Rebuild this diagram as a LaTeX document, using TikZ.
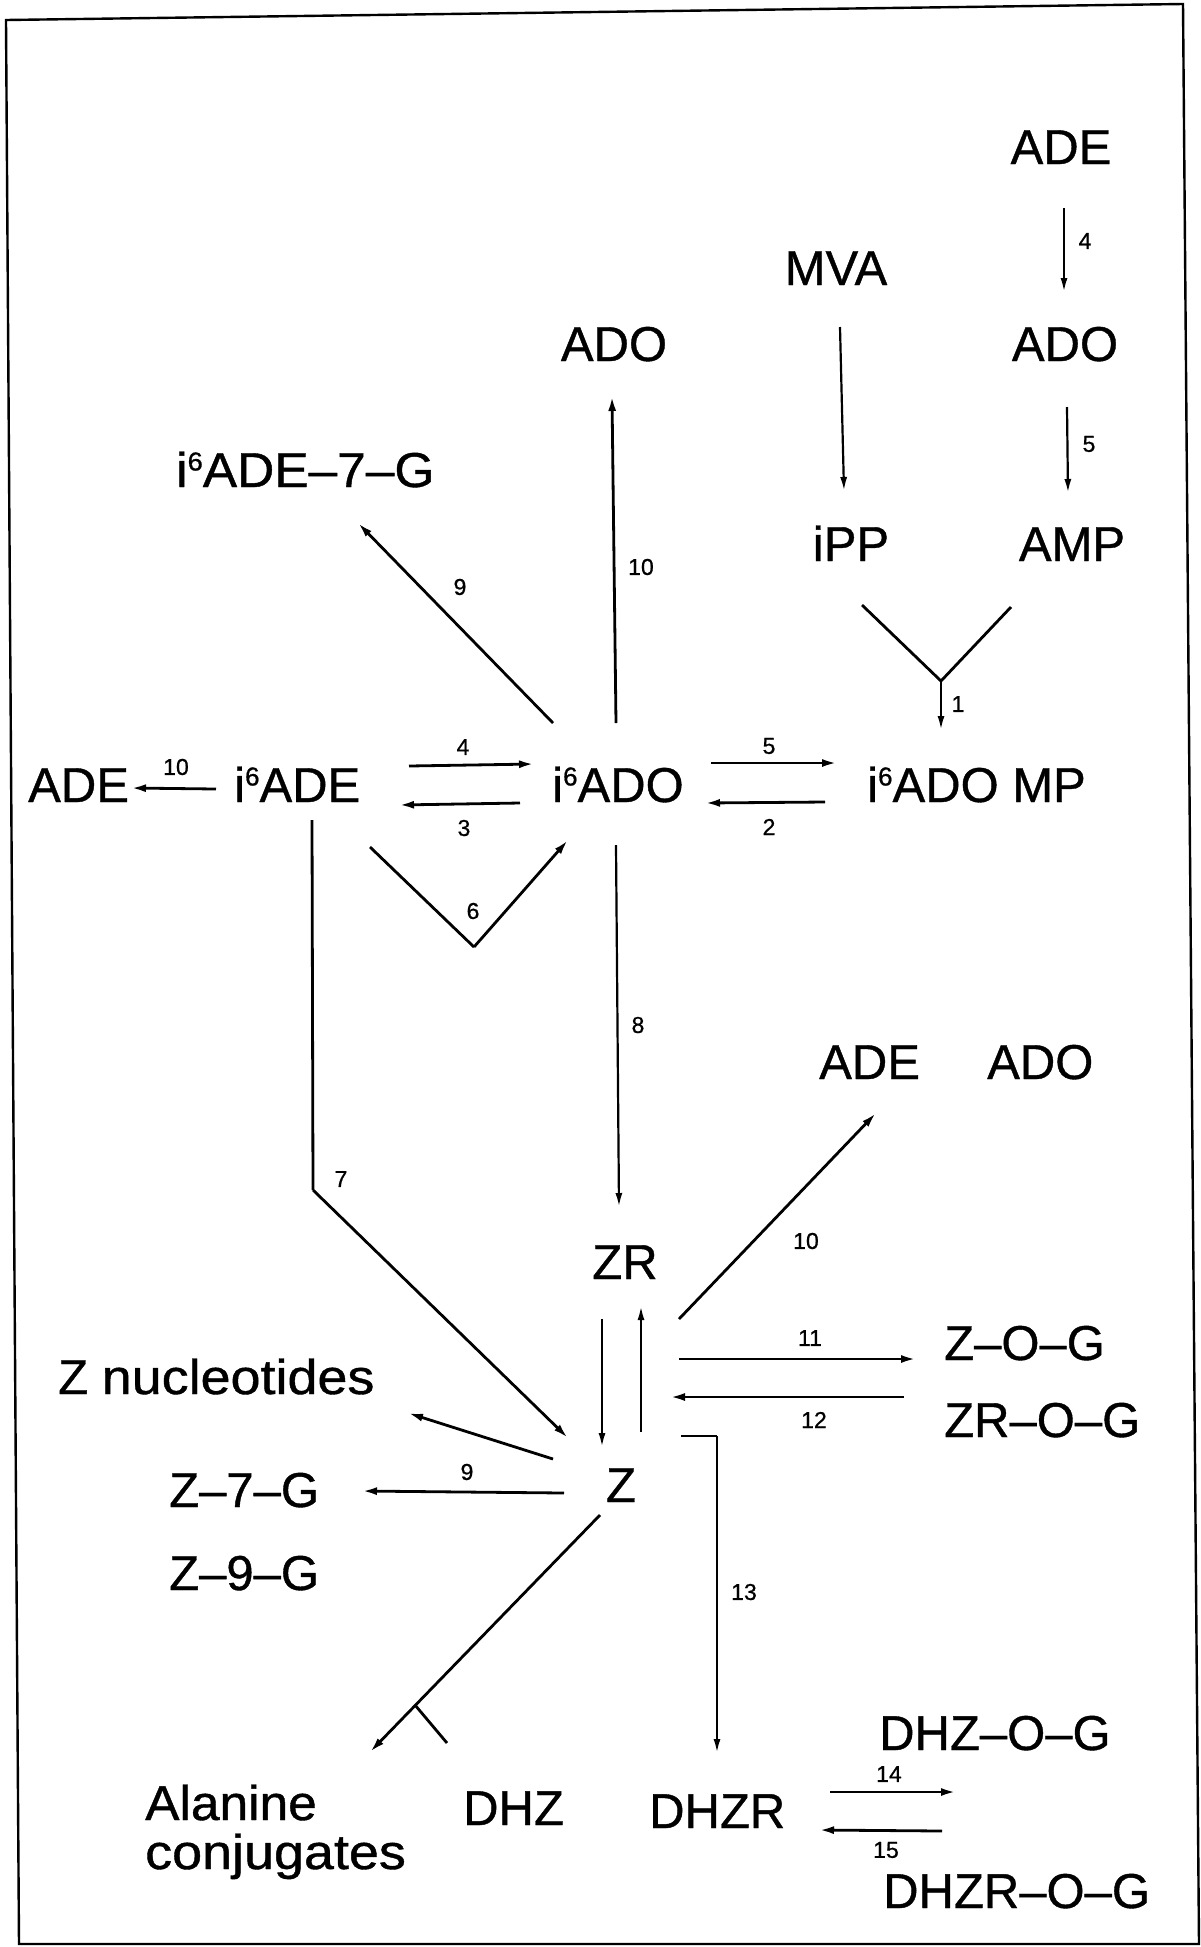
\documentclass[tikz,border=0pt]{standalone}
\usepackage{fontspec}
\setmainfont{Liberation Sans}[FakeBold=0.8]
\usetikzlibrary{arrows.meta}
\newcommand\isix{i\raisebox{16.5pt}{\fontsize{26}{26}\selectfont 6}}
\newcommand\dsh{\textendash}
\newcommand\wide[2]{\scalebox{#1}[1]{#2}}
\begin{document}
\begin{tikzpicture}[x=1pt,y=-1pt,
  chem/.style={inner sep=0pt, anchor=base west, font=\fontsize{49}{58}\selectfont},
  chemc/.style={inner sep=0pt, anchor=base, font=\fontsize{49}{58}\selectfont},
  num/.style={inner sep=0pt, font=\fontsize{23}{27}\selectfont},
  rx/.style={line width=2.8pt, -{Latex[length=15pt,width=8pt]}},
  rxthin/.style={line width=2.2pt, -{Latex[length=14pt,width=7pt]}},
  ln/.style={line width=2.8pt, line join=miter},
  lnthin/.style={line width=2.2pt, line join=miter},
  frame/.style={line width=2.4pt}
  ]
\useasboundingbox (0,0) rectangle (1201,1947);
% frame
\coordinate (f1) at (6,20);
\coordinate (f2) at (1183,4);
\coordinate (f3) at (1199,1944);
\coordinate (f4) at (19,1944);
\draw[frame] (f1) -- (f2) -- (f3) -- (f4) -- cycle;

% compounds
\node[chemc] (ADEt) at (1061,164) {ADE};
\node[chemc] (MVA) at (836,285) {MVA};
\node[chemc] (ADOm) at (614,361) {ADO};
\node[chemc] (ADOr) at (1065,361) {ADO};
\node[chem] (iADEG) at (176,487) {\wide{1.05}{\isix ADE\dsh 7\dsh G}};
\node[chemc] (iPP) at (851,561) {iPP};
\node[chemc] (AMP) at (1072,561) {AMP};
\node[chem] (ADEl) at (28,802) {ADE};
\node[chem] (iADE) at (234,802) {\isix ADE};
\node[chem] (iADO) at (552,802) {\isix ADO};
\node[chem] (iADOMP) at (867,802) {\isix ADO MP};
\node[chem] (ADEm) at (819,1079) {ADE};
\node[chem] (ADOm2) at (987,1079) {ADO};
\node[chemc] (ZR) at (625,1279) {ZR};
\node[chem] (ZOG) at (944,1360) {Z\dsh O\dsh G};
\node[chem] (ZROG) at (944,1437) {ZR\dsh O\dsh G};
\node[chem] (Znuc) at (58,1394) {Z \wide{1.1}{nucleotides}};
\node[chemc] (Z) at (621,1502) {Z};
\node[chem] (Z7G) at (169,1507) {Z\dsh 7\dsh G};
\node[chem] (Z9G) at (169,1590) {Z\dsh 9\dsh G};
\node[chem] (DHZOG) at (879,1750) {DHZ\dsh O\dsh G};
\node[chem] (Ala) at (145,1820) {\wide{1.05}{Alanine}};
\node[chem] (Conj) at (145,1869) {\wide{1.1}{conjugates}};
\node[chem] (DHZ) at (463,1825) {DHZ};
\node[chem] (DHZR) at (649,1828) {DHZR};
\node[chem] (DHZROG) at (883,1908) {DHZR\dsh O\dsh G};

% connector end points
\coordinate (a4s) at (1064,208);  \coordinate (a4e) at (1064,292);
\coordinate (a5s) at (1067,407);  \coordinate (a5e) at (1068,493);
\coordinate (mvs) at (840,327);   \coordinate (mve) at (844,491);
\coordinate (v1a) at (862,605);   \coordinate (v1b) at (1011,607);
\coordinate (v1m) at (941,681);   \coordinate (v1e) at (941,730);
\coordinate (u10s) at (616,723);  \coordinate (u10e) at (612,396);
\coordinate (g9s) at (553,723);   \coordinate (g9e) at (358,523);
\coordinate (l10s) at (216,789);  \coordinate (l10e) at (131,788);
\coordinate (r4s) at (409,766);   \coordinate (r4e) at (534,764);
\coordinate (r3s) at (520,803);   \coordinate (r3e) at (399,805);
\coordinate (r5s) at (711,763);   \coordinate (r5e) at (837,763);
\coordinate (r2s) at (825,802);   \coordinate (r2e) at (705,803);
\coordinate (v6a) at (370,847);   \coordinate (v6m) at (474,947);
\coordinate (v6e) at (568,840);
\coordinate (d8s) at (616,845);   \coordinate (d8e) at (619,1207);
\coordinate (p7a) at (312,820);   \coordinate (p7b) at (313,1190);
\coordinate (p7e) at (568,1438);
\coordinate (m10s) at (679,1319); \coordinate (m10e) at (876,1113);
\coordinate (zrds) at (602,1319); \coordinate (zrde) at (602,1447);
\coordinate (zrus) at (641,1432); \coordinate (zrue) at (641,1306);
\coordinate (r11s) at (679,1359); \coordinate (r11e) at (916,1359);
\coordinate (r12s) at (904,1397); \coordinate (r12e) at (670,1397);
\coordinate (p13a) at (681,1436); \coordinate (p13b) at (717,1436);
\coordinate (p13e) at (717,1753);
\coordinate (znS) at (553,1459);  \coordinate (znE) at (408,1413);
\coordinate (z9s) at (564,1493);  \coordinate (z9e) at (362,1491);
\coordinate (alS) at (600,1515);  \coordinate (alE) at (370,1752);
\coordinate (brA) at (415,1705);  \coordinate (brB) at (447,1743);
\coordinate (r14s) at (830,1792); \coordinate (r14e) at (956,1792);
\coordinate (r15s) at (942,1831); \coordinate (r15e) at (819,1830);

% top right pathway
\draw[rxthin] (a4s) -- (a4e);
\node[num] (n4t) at (1085,241) {4};
\draw[rxthin] (a5s) -- (a5e);
\node[num] (n5t) at (1089,444) {5};
\draw[rxthin] (mvs) -- (mve);
\draw[ln] (v1a) -- (v1m) -- (v1b);
\draw[rxthin] (v1m) -- (v1e);
\node[num] (n1) at (958,704) {1};

% around i6ADO
\draw[rx] (u10s) -- (u10e);
\node[num] (n10a) at (641,567) {10};
\draw[rx] (g9s) -- (g9e);
\node[num] (n9a) at (460,587) {9};
\draw[rx] (l10s) -- (l10e);
\node[num] (n10b) at (176,767) {10};
\draw[rx] (r4s) -- (r4e);
\node[num] (n4) at (463,747) {4};
\draw[rx] (r3s) -- (r3e);
\node[num] (n3) at (464,828) {3};
\draw[rx] (r5s) -- (r5e);
\node[num] (n5) at (769,746) {5};
\draw[rx] (r2s) -- (r2e);
\node[num] (n2) at (769,827) {2};
\draw[ln] (v6a) -- (v6m);
\draw[rx] (v6m) -- (v6e);
\node[num] (n6) at (473,911) {6};
\draw[rxthin] (d8s) -- (d8e);
\node[num] (n8) at (638,1025) {8};
\draw[ln] (p7a) -- (p7b);
\draw[rx] (p7b) -- (p7e);
\node[num] (n7) at (341,1179) {7};

% around ZR / Z
\draw[rx] (m10s) -- (m10e);
\node[num] (n10c) at (806,1241) {10};
\draw[rxthin] (zrds) -- (zrde);
\draw[rxthin] (zrus) -- (zrue);
\draw[rx] (r11s) -- (r11e);
\node[num] (n11) at (810,1338) {11};
\draw[rx] (r12s) -- (r12e);
\node[num] (n12) at (814,1420) {12};
\draw[lnthin] (p13a) -- (p13b);
\draw[rxthin] (p13b) -- (p13e);
\node[num] (n13) at (744,1592) {13};
\draw[rx] (znS) -- (znE);
\draw[rx] (z9s) -- (z9e);
\node[num] (n9b) at (467,1472) {9};
\draw[rx] (alS) -- (alE);
\draw[ln] (brA) -- (brB);
\draw[rx] (r14s) -- (r14e);
\node[num] (n14) at (889,1774) {14};
\draw[rx] (r15s) -- (r15e);
\node[num] (n15) at (886,1850) {15};
\end{tikzpicture}
\end{document}
